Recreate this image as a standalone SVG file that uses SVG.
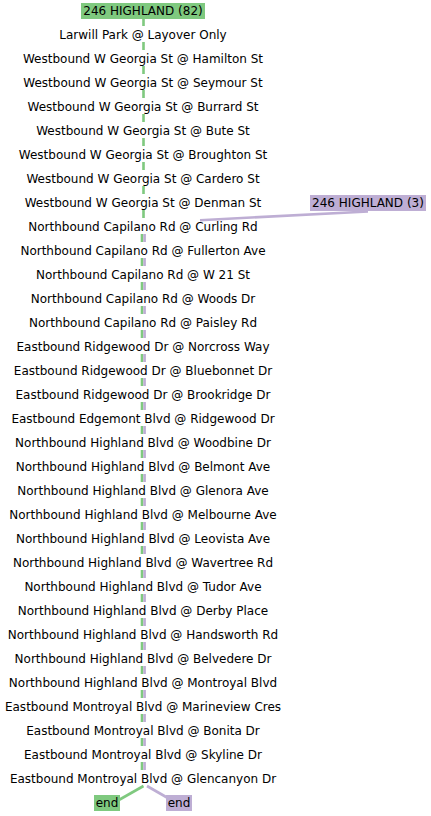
<svg xmlns="http://www.w3.org/2000/svg" width="431" height="816" viewBox="0 0 431 816">
<style>
text{font-family:"DejaVu Sans",sans-serif;font-size:12px;fill:#000;text-anchor:middle}
.g{stroke:#7fc97f}
.p{stroke:#beaed4}
.ln{fill:none;stroke-width:2.6}
.dash{stroke-dasharray:8 16}
.gb{fill:#7fc97f}
.pb{fill:#beaed4}
</style>
<rect width="431" height="816" fill="#fff"/>
<g id="connectors">
<path class="ln g dash" d="M143.5 18V218"/>
<path class="ln g dash" d="M142 234V770"/>
<path class="ln p dash" d="M144.6 234V770"/>
<path class="ln p" d="M200 220.2L368 211.5"/>
<path class="ln g" d="M143.5 786L110 805"/>
<path class="ln p" d="M147 786L180 805"/>
</g>
<g id="route-246-82"><rect class="gb" x="81" y="3" width="124" height="16"/><text x="143" y="15">246 HIGHLAND (82)</text></g>
<g id="route-246-3"><rect class="pb" x="310" y="195" width="116" height="16"/><text x="368" y="207">246 HIGHLAND (3)</text></g>
<g id="stops">
<g id="s1"><text x="143" y="39">Larwill Park @ Layover Only</text></g>
<g id="s2"><text x="143" y="63">Westbound W Georgia St @ Hamilton St</text></g>
<g id="s3"><text x="143" y="87">Westbound W Georgia St @ Seymour St</text></g>
<g id="s4"><text x="143" y="111">Westbound W Georgia St @ Burrard St</text></g>
<g id="s5"><text x="143" y="135">Westbound W Georgia St @ Bute St</text></g>
<g id="s6"><text x="143" y="159">Westbound W Georgia St @ Broughton St</text></g>
<g id="s7"><text x="143" y="183">Westbound W Georgia St @ Cardero St</text></g>
<g id="s8"><text x="143" y="207">Westbound W Georgia St @ Denman St</text></g>
<g id="s9"><text x="143" y="231">Northbound Capilano Rd @ Curling Rd</text></g>
<g id="s10"><text x="143" y="255">Northbound Capilano Rd @ Fullerton Ave</text></g>
<g id="s11"><text x="143" y="279">Northbound Capilano Rd @ W 21 St</text></g>
<g id="s12"><text x="143" y="303">Northbound Capilano Rd @ Woods Dr</text></g>
<g id="s13"><text x="143" y="327">Northbound Capilano Rd @ Paisley Rd</text></g>
<g id="s14"><text x="143" y="351">Eastbound Ridgewood Dr @ Norcross Way</text></g>
<g id="s15"><text x="143" y="375">Eastbound Ridgewood Dr @ Bluebonnet Dr</text></g>
<g id="s16"><text x="143" y="399">Eastbound Ridgewood Dr @ Brookridge Dr</text></g>
<g id="s17"><text x="143" y="423">Eastbound Edgemont Blvd @ Ridgewood Dr</text></g>
<g id="s18"><text x="143" y="447">Northbound Highland Blvd @ Woodbine Dr</text></g>
<g id="s19"><text x="143" y="471">Northbound Highland Blvd @ Belmont Ave</text></g>
<g id="s20"><text x="143" y="495">Northbound Highland Blvd @ Glenora Ave</text></g>
<g id="s21"><text x="143" y="519">Northbound Highland Blvd @ Melbourne Ave</text></g>
<g id="s22"><text x="143" y="543">Northbound Highland Blvd @ Leovista Ave</text></g>
<g id="s23"><text x="143" y="567">Northbound Highland Blvd @ Wavertree Rd</text></g>
<g id="s24"><text x="143" y="591">Northbound Highland Blvd @ Tudor Ave</text></g>
<g id="s25"><text x="143" y="615">Northbound Highland Blvd @ Derby Place</text></g>
<g id="s26"><text x="143" y="639">Northbound Highland Blvd @ Handsworth Rd</text></g>
<g id="s27"><text x="143" y="663">Northbound Highland Blvd @ Belvedere Dr</text></g>
<g id="s28"><text x="143" y="687">Northbound Highland Blvd @ Montroyal Blvd</text></g>
<g id="s29"><text x="143" y="711">Eastbound Montroyal Blvd @ Marineview Cres</text></g>
<g id="s30"><text x="143" y="735">Eastbound Montroyal Blvd @ Bonita Dr</text></g>
<g id="s31"><text x="143" y="759">Eastbound Montroyal Blvd @ Skyline Dr</text></g>
<g id="s32"><text x="143" y="783">Eastbound Montroyal Blvd @ Glencanyon Dr</text></g>
</g>
<g id="end-82"><rect class="gb" x="94" y="795" width="26" height="16"/><text x="107" y="807">end</text></g>
<g id="end-3"><rect class="pb" x="166" y="795" width="26" height="16"/><text x="179" y="807">end</text></g>
</svg>
